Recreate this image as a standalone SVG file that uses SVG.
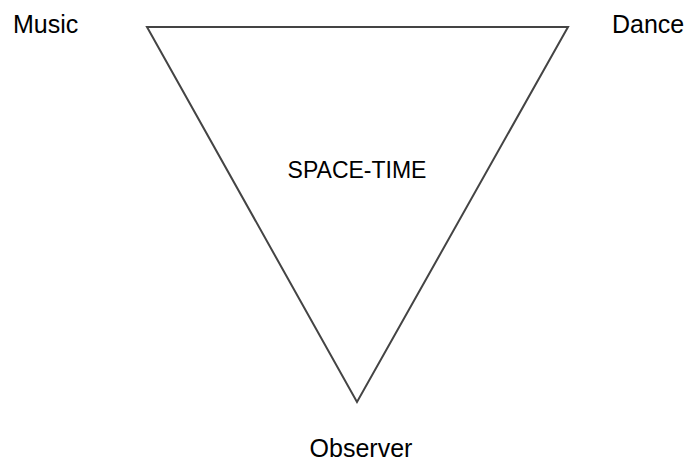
<svg xmlns="http://www.w3.org/2000/svg" width="688" height="461" viewBox="0 0 688 461">
<style>
text{font-family:"Liberation Sans",Arial,sans-serif;fill:#000}
.lbl{font-size:25px}
.tri{fill:none;stroke:#444;stroke-width:2;stroke-linejoin:miter}
</style>
<rect width="688" height="461" fill="#fff"/>
<g id="space-time">
<polygon class="tri" points="147,27 568,27 357,402"/>
<text x="357" y="178" font-size="23" text-anchor="middle">SPACE-TIME</text>
</g>
<g id="music"><text class="lbl" x="13" y="33">Music</text></g>
<g id="dance"><text class="lbl" x="612" y="33">Dance</text></g>
<g id="observer"><text class="lbl" x="361" y="457" text-anchor="middle">Observer</text></g>
</svg>
